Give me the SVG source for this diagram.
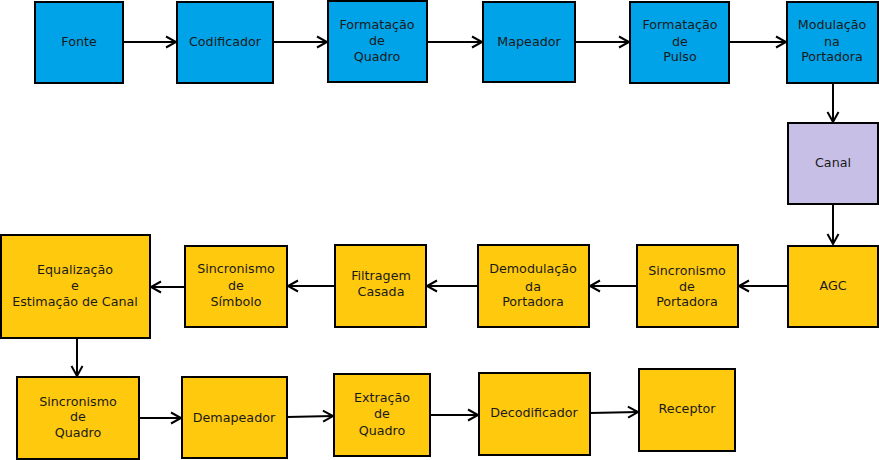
<svg xmlns="http://www.w3.org/2000/svg" width="879" height="460" viewBox="0 0 879 460">
<defs>
<style>
.b{fill:#00A2E8;stroke:#000;stroke-width:2}
.y{fill:#FFC90E;stroke:#000;stroke-width:2}
.p{fill:#C8BFE7;stroke:#000;stroke-width:2}
text{font-family:"DejaVu Sans","Liberation Sans",sans-serif;font-size:12.7px;fill:#1a1a1a;text-anchor:middle}
.c{fill:none;stroke:#000;stroke-width:2}
</style>
<marker id="ah" markerUnits="userSpaceOnUse" markerWidth="14" markerHeight="16" refX="11" refY="8" orient="auto">
<path d="M1,2.5 L11,8 L1,13.5" fill="none" stroke="#000" stroke-width="2"/>
</marker>
</defs>
<rect width="879" height="460" fill="#fff"/>
<g id="connectors">
<line class="c" x1="124" y1="42" x2="176" y2="42" marker-end="url(#ah)"/>
<line class="c" x1="273" y1="42" x2="327" y2="42" marker-end="url(#ah)"/>
<line class="c" x1="427" y1="42" x2="482" y2="42" marker-end="url(#ah)"/>
<line class="c" x1="575" y1="42" x2="629" y2="42" marker-end="url(#ah)"/>
<line class="c" x1="729" y1="42" x2="786" y2="42" marker-end="url(#ah)"/>
<line class="c" x1="833" y1="83" x2="833" y2="122" marker-end="url(#ah)"/>
<line class="c" x1="833" y1="204" x2="833" y2="244" marker-end="url(#ah)"/>
<line class="c" x1="788" y1="286" x2="739" y2="286" marker-end="url(#ah)"/>
<line class="c" x1="637" y1="286" x2="590" y2="286" marker-end="url(#ah)"/>
<line class="c" x1="478" y1="286" x2="427" y2="286" marker-end="url(#ah)"/>
<line class="c" x1="335" y1="286" x2="288" y2="286" marker-end="url(#ah)"/>
<line class="c" x1="185" y1="287" x2="151" y2="287" marker-end="url(#ah)"/>
<line class="c" x1="77" y1="338" x2="77" y2="376" marker-end="url(#ah)"/>
<line class="c" x1="139" y1="418" x2="181" y2="418" marker-end="url(#ah)"/>
<line class="c" x1="287" y1="417" x2="333" y2="416" marker-end="url(#ah)"/>
<line class="c" x1="430" y1="415" x2="478" y2="415" marker-end="url(#ah)"/>
<line class="c" x1="590" y1="413" x2="638" y2="412" marker-end="url(#ah)"/>
</g>
<g id="fonte"><rect class="b" x="35" y="2" width="88" height="81"/><text x="79" y="46">Fonte</text></g>
<g id="codificador"><rect class="b" x="177" y="2" width="96" height="81"/><text x="225" y="46">Codificador</text></g>
<g id="formatacao-quadro"><rect class="b" x="328" y="1" width="99" height="81"/><text x="377" y="29">Formatação</text><text x="377" y="45">de</text><text x="377" y="61">Quadro</text></g>
<g id="mapeador"><rect class="b" x="483" y="2" width="92" height="80"/><text x="529" y="46">Mapeador</text></g>
<g id="formatacao-pulso"><rect class="b" x="630" y="2" width="99" height="81"/><text x="680" y="29">Formatação</text><text x="680" y="46">de</text><text x="680" y="61">Pulso</text></g>
<g id="modulacao"><rect class="b" x="787" y="2" width="91" height="81"/><text x="832" y="29">Modulação</text><text x="832" y="46">na</text><text x="832" y="61">Portadora</text></g>
<g id="canal"><rect class="p" x="788" y="123" width="90" height="81"/><text x="833" y="167">Canal</text></g>
<g id="agc"><rect class="y" x="788" y="246" width="90" height="81"/><text x="833" y="290">AGC</text></g>
<g id="sinc-portadora"><rect class="y" x="637" y="245" width="101" height="82"/><text x="687" y="275">Sincronismo</text><text x="687" y="291">de</text><text x="687" y="306">Portadora</text></g>
<g id="demodulacao"><rect class="y" x="478" y="245" width="111" height="82"/><text x="533" y="273">Demodulação</text><text x="533" y="291">da</text><text x="533" y="306">Portadora</text></g>
<g id="filtragem"><rect class="y" x="335" y="245" width="91" height="82"/><text x="381" y="280">Filtragem</text><text x="381" y="296">Casada</text></g>
<g id="sinc-simbolo"><rect class="y" x="185" y="246" width="102" height="81"/><text x="236" y="273">Sincronismo</text><text x="236" y="290">de</text><text x="236" y="306">Símbolo</text></g>
<g id="equalizacao"><rect class="y" x="1" y="235" width="149" height="103"/><text x="75" y="274">Equalização</text><text x="75" y="290">e</text><text x="75" y="306">Estimação de Canal</text></g>
<g id="sinc-quadro"><rect class="y" x="17" y="377" width="122" height="82"/><text x="78" y="406">Sincronismo</text><text x="78" y="421">de</text><text x="78" y="437">Quadro</text></g>
<g id="demapeador"><rect class="y" x="182" y="377" width="105" height="81"/><text x="234" y="422">Demapeador</text></g>
<g id="extracao"><rect class="y" x="334" y="374" width="96" height="82"/><text x="382" y="402">Extração</text><text x="382" y="418">de</text><text x="382" y="435">Quadro</text></g>
<g id="decodificador"><rect class="y" x="479" y="373" width="111" height="82"/><text x="534" y="417">Decodificador</text></g>
<g id="receptor"><rect class="y" x="639" y="369" width="96" height="82"/><text x="687" y="413">Receptor</text></g>
</svg>
